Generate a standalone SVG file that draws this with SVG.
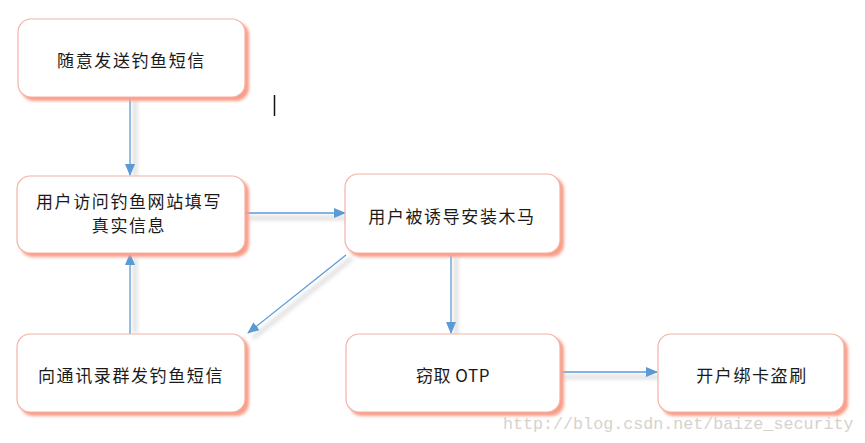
<svg xmlns="http://www.w3.org/2000/svg" width="865" height="443" viewBox="0 0 865 443">
<style>
.box{fill:#ffffff;stroke:#f2b3a6;stroke-width:1.2}
.sh{fill:#fb9c88;filter:url(#blur1)}
.t{font-family:"Noto Sans CJK SC","Noto Sans",sans-serif;font-size:17px;letter-spacing:1.6px;fill:#1a1a1a;text-anchor:middle;dominant-baseline:central}
.ln{stroke:#5b9bd5;stroke-width:1.3;fill:none;marker-end:url(#ah)}
.lsh{stroke:#8a8a8a;stroke-width:4;fill:none;opacity:0.3;filter:url(#blur2)}
</style>
<defs>
<filter id="blur1" x="-10%" y="-20%" width="120%" height="140%"><feGaussianBlur stdDeviation="1.6"/></filter>
<filter id="blur2" filterUnits="userSpaceOnUse" x="0" y="0" width="865" height="443"><feGaussianBlur stdDeviation="2"/></filter>
<marker id="ah" markerWidth="12" markerHeight="10" refX="11" refY="5" orient="auto" markerUnits="userSpaceOnUse">
<path d="M0,0 L12,5 L0,10 Z" fill="#5b9bd5"/>
</marker>
</defs>
<rect width="865" height="443" fill="#ffffff"/>
<g id="connectors">
<line class="lsh" x1="135" y1="100" x2="135" y2="177"/>
<line class="lsh" x1="248" y1="218" x2="347" y2="218"/>
<line class="lsh" x1="352" y1="258" x2="253" y2="338"/>
<line class="lsh" x1="135" y1="333" x2="135" y2="258"/>
<line class="lsh" x1="456" y1="257" x2="456" y2="336"/>
<line class="lsh" x1="562" y1="377" x2="660" y2="377"/>
<line class="ln" x1="130" y1="97" x2="130" y2="175"/>
<line class="ln" x1="245" y1="213" x2="345" y2="213"/>
<line class="ln" x1="346" y1="255" x2="248" y2="333"/>
<line class="ln" x1="130" y1="334" x2="130" y2="254"/>
<line class="ln" x1="451" y1="255" x2="451" y2="333"/>
<line class="ln" x1="559" y1="372" x2="657" y2="372"/>
</g>
<g id="n1">
<rect class="sh" x="21" y="22" width="228" height="79" rx="13"/>
<rect class="box" x="18" y="19" width="227" height="78" rx="13"/>
<text class="t" x="131.5" y="59">随意发送钓鱼短信</text>
</g>
<g id="n2">
<rect class="sh" x="20" y="179" width="229" height="78" rx="13"/>
<rect class="box" x="17" y="176" width="228" height="77" rx="13"/>
<text class="t" x="129" y="200">用户访问钓鱼网站填写</text>
<text class="t" x="129" y="224">真实信息</text>
</g>
<g id="n3">
<rect class="sh" x="348" y="177" width="216" height="80" rx="13"/>
<rect class="box" x="345" y="174" width="215" height="79" rx="13"/>
<text class="t" x="452" y="215">用户被诱导安装木马</text>
</g>
<g id="n4">
<rect class="sh" x="20" y="337" width="229" height="79" rx="13"/>
<rect class="box" x="17" y="334" width="228" height="78" rx="13"/>
<text class="t" x="131" y="374">向通讯录群发钓鱼短信</text>
</g>
<g id="n5">
<rect class="sh" x="349" y="337" width="215" height="79" rx="13"/>
<rect class="box" x="346" y="334" width="214" height="78" rx="13"/>
<text class="t" x="453" y="374" style="letter-spacing:0.5px">窃取 OTP</text>
</g>
<g id="n6">
<rect class="sh" x="661" y="337" width="187" height="79" rx="13"/>
<rect class="box" x="658" y="334" width="186" height="78" rx="13"/>
<text class="t" x="752" y="374">开户绑卡盗刷</text>
</g>
<line x1="274.5" y1="95" x2="274.5" y2="116" stroke="#111" stroke-width="1.5"/>
<text x="503" y="429" font-family="Liberation Mono, monospace" font-size="16.7" fill="#d6d2cd">http://blog.csdn.net/baize_security</text>
</svg>
